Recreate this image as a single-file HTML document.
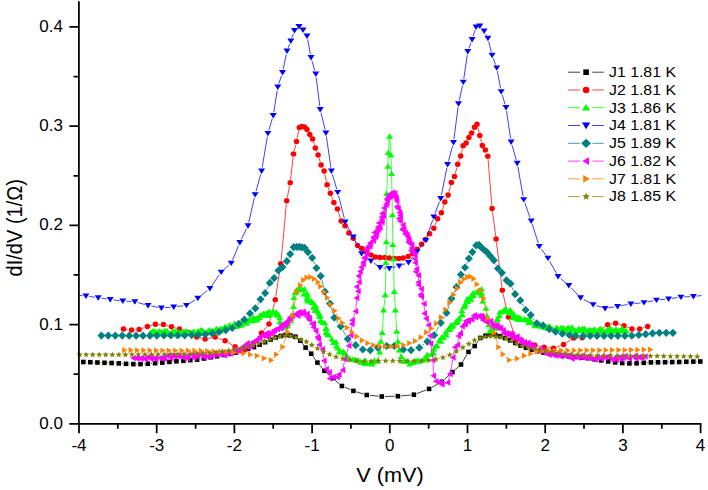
<!DOCTYPE html>
<html><head><meta charset="utf-8"><title>dI/dV</title>
<style>html,body{margin:0;padding:0;background:#fff}svg{display:block}text{font-family:"Liberation Sans",sans-serif;fill:#000}</style></head><body>
<svg width="708" height="490" viewBox="0 0 708 490">
<rect width="708" height="490" fill="#fff"/>
<defs>
<rect id="sq" x="-2.3" y="-2.3" width="4.6" height="4.6"/>
<circle id="ci" r="2.75"/>
<polygon id="tu" points="0,-3 3.5,2.4 -3.5,2.4"/>
<polygon id="td" points="0,3 3.5,-2.4 -3.5,-2.4"/>
<polygon id="di" points="0,-4.1 4,0 0,4.1 -4,0"/>
<polygon id="tl" points="-3.2,0 2.5,-3.3 2.5,3.3"/>
<polygon id="tr" points="3,0 -2.3,-3.1 -2.3,3.1"/>
<polygon id="st" points="0.00,-3.30 0.85,-1.17 3.14,-1.02 1.38,0.45 1.94,2.67 0.00,1.45 -1.94,2.67 -1.38,0.45 -3.14,-1.02 -0.85,-1.17"/>
<rect id="Lsq" x="-2.8" y="-2.8" width="5.6" height="5.6"/>
<circle id="Lci" r="3.3"/>
<polygon id="Ltu" points="0,-3.8 4.1,2.9 -4.1,2.9"/>
<polygon id="Ltd" points="0,3.8 4.1,-2.9 -4.1,-2.9"/>
<polygon id="Ldi" points="0,-4.6 4.9,0 0,4.6 -4.9,0"/>
<polygon id="Ltl" points="-3.8,0 2.9,-3.9 2.9,3.9"/>
<polygon id="Ltr" points="3.8,0 -2.9,-3.9 -2.9,3.9"/>
<polygon id="Lst" points="0.00,-4.10 1.03,-1.42 3.90,-1.27 1.66,0.54 2.41,3.32 0.00,1.75 -2.41,3.32 -1.66,0.54 -3.90,-1.27 -1.03,-1.42"/>
</defs>
<clipPath id="cp"><rect x="79" y="0" width="624" height="424"/></clipPath>
<g fill="#000000" stroke="none">
<path d="M86.5 362.11 L87.14 362.13 M93.54 362.35 L94.21 362.37 M100.61 362.6 L101.31 362.63 M107.71 362.88 L108.44 362.91 M114.84 363.19 L115.61 363.23 M122 363.56 L122.81 363.6 M129.2 363.91 L130.06 363.95 M136.46 364.08 L137.35 364.08 M143.74 363.92 L144.64 363.88 M151.03 363.51 L151.89 363.45 M158.27 362.96 L159.09 362.89 M165.46 362.3 L166.21 362.22 M172.58 361.64 L173.24 361.58 M179.62 361.07 L180.2 361.03 M186.58 360.46 L187.12 360.41 M193.49 359.85 L193.94 359.82 M200.29 359.07 L200.75 359 M207.06 357.95 L207.42 357.89 M302.32 343.26 L303.65 345.03 M307.75 349.94 L309.05 351.34 M313.03 356.32 L315.55 360 M319.46 365.06 L322.29 368.34 M326.76 372.9 L330.13 375.91 M334.95 380.12 L339.5 383.97 M344.89 387.28 L350.5 389.64 M356.5 391.83 L363.61 394.05 M369.85 395.32 L378.64 396.21 M385.02 396.47 L394.75 396.26 M401.13 395.9 L410.74 395.02 M416.91 393.57 L426.12 390.01 M431.9 387.3 L439.01 383.33 M444.17 379.62 L450.06 374.27 M454.81 369.98 L458.61 366.59 M462.64 361.71 L466.87 354.64 M470.83 349.68 L472.38 348.21 M476.53 343.38 L478.5 340.6 M591.18 358.71 L591.48 358.76 M597.8 359.81 L598.2 359.88 M604.52 360.86 L605.03 360.94 M611.37 361.84 L611.98 361.93 M618.33 362.67 L619.03 362.74 M625.41 363.2 L626.17 363.24 M632.57 363.36 L633.38 363.35 M639.77 363.08 L640.59 363.02 M646.98 362.61 L647.74 362.57 M654.13 362.34 L654.82 362.33 M661.22 362.25 L661.9 362.24 M668.3 362.15 L668.97 362.14 M675.37 362.06 L676.02 362.05 M682.42 361.92 L683.07 361.91 M689.47 361.74 L690.1 361.72 M696.49 361.57 L697.1 361.56 " fill="none" stroke="#000000" stroke-width="0.75"/>
<use href="#sq" x="83.3" y="362"/><use href="#sq" x="90.3" y="362.2"/><use href="#sq" x="97.4" y="362.5"/><use href="#sq" x="104.5" y="362.8"/><use href="#sq" x="111.6" y="363"/><use href="#sq" x="118.8" y="363.4"/><use href="#sq" x="126" y="363.8"/><use href="#sq" x="133.3" y="364.1"/><use href="#sq" x="140.5" y="364.1"/><use href="#sq" x="147.8" y="363.7"/><use href="#sq" x="155.1" y="363.2"/><use href="#sq" x="162.3" y="362.6"/><use href="#sq" x="169.4" y="361.9"/><use href="#sq" x="176.4" y="361.3"/><use href="#sq" x="183.4" y="360.8"/><use href="#sq" x="190.3" y="360.1"/><use href="#sq" x="197.1" y="359.6"/><use href="#sq" x="203.9" y="358.5"/><use href="#sq" x="210.6" y="357.3"/><use href="#sq" x="217.1" y="356.2"/><use href="#sq" x="223.6" y="355"/><use href="#sq" x="229.9" y="353.8"/><use href="#sq" x="236.1" y="352.6"/><use href="#sq" x="242.2" y="350.7"/><use href="#sq" x="248.2" y="348.9"/><use href="#sq" x="254" y="347.1"/><use href="#sq" x="259.6" y="344.6"/><use href="#sq" x="265.1" y="342.2"/><use href="#sq" x="270.5" y="339.7"/><use href="#sq" x="275.7" y="337.5"/><use href="#sq" x="280.7" y="336"/><use href="#sq" x="285.6" y="334.9"/><use href="#sq" x="290.5" y="335.5"/><use href="#sq" x="295.4" y="336.7"/><use href="#sq" x="300.4" y="340.7"/><use href="#sq" x="305.6" y="347.6"/><use href="#sq" x="311.2" y="353.7"/><use href="#sq" x="317.4" y="362.6"/><use href="#sq" x="324.4" y="370.8"/><use href="#sq" x="332.5" y="378.1"/><use href="#sq" x="341.9" y="386"/><use href="#sq" x="353.4" y="390.9"/><use href="#sq" x="366.7" y="395"/><use href="#sq" x="381.8" y="396.5"/><use href="#sq" x="397.9" y="396.2"/><use href="#sq" x="413.9" y="394.7"/><use href="#sq" x="429.1" y="388.9"/><use href="#sq" x="441.8" y="381.8"/><use href="#sq" x="452.4" y="372.1"/><use href="#sq" x="461" y="364.5"/><use href="#sq" x="468.5" y="351.9"/><use href="#sq" x="474.7" y="346"/><use href="#sq" x="480.3" y="338"/><use href="#sq" x="485.5" y="335.7"/><use href="#sq" x="490.4" y="334.3"/><use href="#sq" x="495.3" y="334.8"/><use href="#sq" x="500.2" y="336.2"/><use href="#sq" x="505.1" y="338"/><use href="#sq" x="510.1" y="340.3"/><use href="#sq" x="515.3" y="342.9"/><use href="#sq" x="520.6" y="345.6"/><use href="#sq" x="526.1" y="347.8"/><use href="#sq" x="531.8" y="349.6"/><use href="#sq" x="537.6" y="351.1"/><use href="#sq" x="543.6" y="352.6"/><use href="#sq" x="549.7" y="353.8"/><use href="#sq" x="555.9" y="354.8"/><use href="#sq" x="562.2" y="355.7"/><use href="#sq" x="568.5" y="356.4"/><use href="#sq" x="575" y="357"/><use href="#sq" x="581.5" y="357.6"/><use href="#sq" x="588" y="358.2"/><use href="#sq" x="594.6" y="359.3"/><use href="#sq" x="601.4" y="360.4"/><use href="#sq" x="608.2" y="361.4"/><use href="#sq" x="615.1" y="362.4"/><use href="#sq" x="622.2" y="363"/><use href="#sq" x="629.4" y="363.4"/><use href="#sq" x="636.6" y="363.3"/><use href="#sq" x="643.8" y="362.8"/><use href="#sq" x="650.9" y="362.4"/><use href="#sq" x="658" y="362.3"/><use href="#sq" x="665.1" y="362.2"/><use href="#sq" x="672.2" y="362.1"/><use href="#sq" x="679.2" y="362"/><use href="#sq" x="686.3" y="361.8"/><use href="#sq" x="693.3" y="361.6"/><use href="#sq" x="700.3" y="361.5"/>
</g>
<g fill="#ff0000" stroke="none">
<path d="M126.67 329.37 L128.43 329.63 M134.79 329.89 L135.91 329.81 M142.11 328.51 L144.39 327.69 M150.48 325.72 L152.32 325.18 M158.6 324.42 L160.2 324.48 M166.49 325.44 L168.41 325.96 M174.58 327.68 L176.42 328.22 M182.47 330.29 L185.03 331.31 M190.85 333.96 L193.95 335.54 M199.9 337.78 L202 338.32 M208.24 338.47 L211.96 337.73 M218.11 338.18 L222.09 339.62 M227.84 342.35 L232.36 345.05 M238.12 347.76 L241.48 348.94 M247.07 348.1 L250.73 345.4 M255.26 340.97 L259.54 335.43 M263.58 330.46 L266.92 326.54 M269.8 321 L274.5 302.8 M275.78 296.54 L280.32 266.96 M281.1 260.61 L286.4 203.99 M287.31 197.66 L289.59 185.94 M290.56 179.62 L293.14 157.08 M294.26 150.79 L295.74 144.71 M297.12 138.46 L298.68 130.64 M313.52 142.07 L314.38 144.93 M316.49 150.97 L316.91 152.03 M319.02 158.07 L320.18 161.93 M322.53 167.86 L322.67 168.14 M324.78 174.13 L326.42 181.67 M328.26 187.78 L329.24 190.32 M331.53 196.29 L332.77 199.61 M335.47 205.39 L335.93 206.21 M338.44 212.06 L340.26 218.04 M346.52 228.51 L347.38 230.09 M350.92 235.38 L351.18 235.72 M354.84 240.95 L355.96 242.85 M419.19 246.87 L419.41 246.63 M427.35 236.89 L427.75 236.31 M431.56 231.17 L431.84 230.83 M434.99 225.33 L436.41 221.77 M439.31 216.1 L439.69 215.5 M442.37 209.75 L443.83 205.15 M446.15 199.2 L446.75 197.9 M448.91 191.9 L450.59 185.5 M455.31 173.4 L456.89 167.4 M458.79 161.29 L459.61 159.01 M461.43 152.88 L462.37 148.82 M477.77 127.41 L479.03 132.49 M480.58 138.7 L481.52 142.5 M488.06 159.39 L491.84 205.21 M492.51 211.57 L495.69 235.83 M496.48 242.18 L501.92 287.12 M503.01 293.42 L507.69 313.98 M509.45 320.12 L515.15 336.48 M519.11 340.82 L522.09 342.18 M528.15 344.08 L531.65 344.72 M537.93 345.97 L541.07 346.63 M547.38 347.65 L550.22 347.95 M556.39 347.16 L560.61 345.54 M566.27 342.64 L570.83 339.66 M576.7 337.83 L579 337.77 M585.27 336.81 L587.43 336.19 M593.38 333.9 L596.42 332.4 M601.85 329.07 L605.05 326.63 M610.75 324.11 L612.45 323.79 M618.66 324.12 L620.84 324.78 M626.86 326.92 L628.94 327.78 M635.1 329 L636.5 329 M642.75 328.05 L644.65 327.45 " fill="none" stroke="#ff0000" stroke-width="0.75"/>
<use href="#ci" x="123.5" y="328.9"/><use href="#ci" x="131.6" y="330.1"/><use href="#ci" x="139.1" y="329.6"/><use href="#ci" x="147.4" y="326.6"/><use href="#ci" x="155.4" y="324.3"/><use href="#ci" x="163.4" y="324.6"/><use href="#ci" x="171.5" y="326.8"/><use href="#ci" x="179.5" y="329.1"/><use href="#ci" x="188" y="332.5"/><use href="#ci" x="196.8" y="337"/><use href="#ci" x="205.1" y="339.1"/><use href="#ci" x="215.1" y="337.1"/><use href="#ci" x="225.1" y="340.7"/><use href="#ci" x="235.1" y="346.7"/><use href="#ci" x="244.5" y="350"/><use href="#ci" x="253.3" y="343.5"/><use href="#ci" x="261.5" y="332.9"/><use href="#ci" x="269" y="324.1"/><use href="#ci" x="275.3" y="299.7"/><use href="#ci" x="280.8" y="263.8"/><use href="#ci" x="286.7" y="200.8"/><use href="#ci" x="290.2" y="182.8"/><use href="#ci" x="293.5" y="153.9"/><use href="#ci" x="296.5" y="141.6"/><use href="#ci" x="299.3" y="127.5"/><use href="#ci" x="301.8" y="126.5"/><use href="#ci" x="304.5" y="127"/><use href="#ci" x="307" y="129.5"/><use href="#ci" x="309.8" y="134.5"/><use href="#ci" x="312.6" y="139"/><use href="#ci" x="315.3" y="148"/><use href="#ci" x="318.1" y="155"/><use href="#ci" x="321.1" y="165"/><use href="#ci" x="324.1" y="171"/><use href="#ci" x="327.1" y="184.8"/><use href="#ci" x="330.4" y="193.3"/><use href="#ci" x="333.9" y="202.6"/><use href="#ci" x="337.5" y="209"/><use href="#ci" x="341.2" y="221.1"/><use href="#ci" x="345" y="225.7"/><use href="#ci" x="348.9" y="232.9"/><use href="#ci" x="353.2" y="238.2"/><use href="#ci" x="357.6" y="245.6"/><use href="#ci" x="362" y="248.6"/><use href="#ci" x="366.5" y="252"/><use href="#ci" x="371.1" y="255.1"/><use href="#ci" x="375.4" y="256.9"/><use href="#ci" x="380" y="257.5"/><use href="#ci" x="384.8" y="257.5"/><use href="#ci" x="389.3" y="258.1"/><use href="#ci" x="394.3" y="258.5"/><use href="#ci" x="398.8" y="258.5"/><use href="#ci" x="403.2" y="258.1"/><use href="#ci" x="408.1" y="256.5"/><use href="#ci" x="412.7" y="253.6"/><use href="#ci" x="417" y="249.2"/><use href="#ci" x="421.6" y="244.3"/><use href="#ci" x="425.5" y="239.5"/><use href="#ci" x="429.6" y="233.7"/><use href="#ci" x="433.8" y="228.3"/><use href="#ci" x="437.6" y="218.8"/><use href="#ci" x="441.4" y="212.8"/><use href="#ci" x="444.8" y="202.1"/><use href="#ci" x="448.1" y="195"/><use href="#ci" x="451.4" y="182.4"/><use href="#ci" x="454.5" y="176.5"/><use href="#ci" x="457.7" y="164.3"/><use href="#ci" x="460.7" y="156"/><use href="#ci" x="463.1" y="145.7"/><use href="#ci" x="466.1" y="143"/><use href="#ci" x="468.9" y="137.4"/><use href="#ci" x="471.7" y="133.1"/><use href="#ci" x="474.5" y="127.3"/><use href="#ci" x="477" y="124.3"/><use href="#ci" x="479.8" y="135.6"/><use href="#ci" x="482.3" y="145.6"/><use href="#ci" x="485.3" y="150.1"/><use href="#ci" x="487.8" y="156.2"/><use href="#ci" x="492.1" y="208.4"/><use href="#ci" x="496.1" y="239"/><use href="#ci" x="502.3" y="290.3"/><use href="#ci" x="508.4" y="317.1"/><use href="#ci" x="516.2" y="339.5"/><use href="#ci" x="525" y="343.5"/><use href="#ci" x="534.8" y="345.3"/><use href="#ci" x="544.2" y="347.3"/><use href="#ci" x="553.4" y="348.3"/><use href="#ci" x="563.6" y="344.4"/><use href="#ci" x="573.5" y="337.9"/><use href="#ci" x="582.2" y="337.7"/><use href="#ci" x="590.5" y="335.3"/><use href="#ci" x="599.3" y="331"/><use href="#ci" x="607.6" y="324.7"/><use href="#ci" x="615.6" y="323.2"/><use href="#ci" x="623.9" y="325.7"/><use href="#ci" x="631.9" y="329"/><use href="#ci" x="639.7" y="329"/><use href="#ci" x="647.7" y="326.5"/>
</g>
<g fill="#00ff00" stroke="none">
<path d="M227.17 327.74 L227.52 327.37 M258.64 317.14 L259.03 316.69 M291.32 318.93 L292.05 316.65 M292.85 312.75 L293.26 308.68 M293.56 304.7 L293.82 299.7 M294.4 295.76 L294.61 294.88 M304.15 291.01 L304.07 292.08 M313.37 304.81 L313.39 305.4 M315.37 308.31 L315.25 308.77 M325.31 324.86 L325.6 325.94 M330.05 336.76 L330.66 337.59 M362.37 361.17 L363.31 360.85 M377.97 359.06 L379.28 354.13 M379.98 350.21 L380.62 343.39 M381.14 339.43 L381.96 334.57 M382.41 330.6 L383.49 312 M383.82 308.01 L385.08 296.79 M385.34 292.8 L385.86 264.5 M385.94 260.5 L386.26 243.8 M386.31 239.8 L386.59 195.6 M386.7 191.6 L387.8 168.4 M387.96 164.4 L388.24 154.6 M388.46 150.61 L389.44 138.29 M389.74 138.3 L390.76 153.1 M390.98 157.1 L391.52 171.5 M391.64 175.5 L392.36 212.9 M392.43 216.9 L392.87 242.7 M392.96 246.7 L393.24 257.1 M393.36 261.1 L394.24 289.6 M394.42 293.6 L395.28 308 M395.52 312 L396.58 329.4 M396.94 333.39 L397.66 339.41 M398.19 343.38 L398.91 348.22 M399.84 352.09 L400.68 354.56 M402.25 358.23 L402.91 359.5 M421.64 360.13 L422.77 359.47 M437.84 343.98 L438.61 342.11 M443.7 336.12 L444.41 335.79 M449.86 327.52 L450.23 326.86 M454.32 323.76 L455.07 322.84 M460.62 316.84 L461.09 316.31 M462.85 309.14 L462.99 308.86 M479.53 290.3 L479.92 290.05 M482.16 297.58 L482.47 299.02 M483.64 302.82 L485.15 306.49 M486.19 310.32 L486.71 313.98 M488.39 321.97 L488.46 322.88 M488.97 326.84 L489.37 329.3 M496.24 323.61 L496.65 321.79 M532.98 323.19 L533.23 323.37 M585.64 330.15 L585.92 330.51 " fill="none" stroke="#00ff00" stroke-width="0.75"/>
<use href="#tu" x="150.6" y="332.8"/><use href="#tu" x="151.1" y="332"/><use href="#tu" x="154.4" y="333.6"/><use href="#tu" x="153.3" y="330.8"/><use href="#tu" x="154.4" y="331.8"/><use href="#tu" x="155.7" y="331.8"/><use href="#tu" x="159" y="331.1"/><use href="#tu" x="160.4" y="332.4"/><use href="#tu" x="159.7" y="332.2"/><use href="#tu" x="161.8" y="331.7"/><use href="#tu" x="163.2" y="332.8"/><use href="#tu" x="165.1" y="330.6"/><use href="#tu" x="166.8" y="333.2"/><use href="#tu" x="167.4" y="331"/><use href="#tu" x="169" y="334"/><use href="#tu" x="172.2" y="333"/><use href="#tu" x="173.3" y="333.8"/><use href="#tu" x="173" y="330.8"/><use href="#tu" x="175.3" y="332.8"/><use href="#tu" x="175.7" y="331.5"/><use href="#tu" x="177.2" y="332.5"/><use href="#tu" x="178.1" y="331.9"/><use href="#tu" x="180.1" y="334.2"/><use href="#tu" x="181.9" y="331.9"/><use href="#tu" x="182.2" y="332.5"/><use href="#tu" x="183.4" y="331.4"/><use href="#tu" x="185.7" y="330.9"/><use href="#tu" x="187" y="332"/><use href="#tu" x="189.1" y="333.5"/><use href="#tu" x="190.4" y="333.2"/><use href="#tu" x="190.7" y="333"/><use href="#tu" x="192" y="332.6"/><use href="#tu" x="193.3" y="332"/><use href="#tu" x="193.8" y="331.2"/><use href="#tu" x="198.1" y="331.1"/><use href="#tu" x="198.5" y="332.7"/><use href="#tu" x="200" y="331.9"/><use href="#tu" x="200.9" y="330.2"/><use href="#tu" x="200.6" y="330.6"/><use href="#tu" x="202.2" y="330"/><use href="#tu" x="203.5" y="331.7"/><use href="#tu" x="205" y="333.1"/><use href="#tu" x="207.9" y="331.3"/><use href="#tu" x="209.4" y="330.1"/><use href="#tu" x="211.4" y="332.2"/><use href="#tu" x="212.1" y="330.6"/><use href="#tu" x="213.8" y="331.5"/><use href="#tu" x="214.5" y="332.1"/><use href="#tu" x="215.8" y="329.7"/><use href="#tu" x="216.9" y="328.7"/><use href="#tu" x="217" y="330.5"/><use href="#tu" x="220.2" y="331.2"/><use href="#tu" x="221.8" y="329.2"/><use href="#tu" x="220.6" y="328.7"/><use href="#tu" x="224.6" y="329.6"/><use href="#tu" x="224.5" y="328"/><use href="#tu" x="225" y="326.6"/><use href="#tu" x="225.8" y="329.2"/><use href="#tu" x="228.9" y="325.9"/><use href="#tu" x="229.5" y="325.3"/><use href="#tu" x="230.1" y="327.6"/><use href="#tu" x="232.8" y="326.2"/><use href="#tu" x="232.9" y="326.5"/><use href="#tu" x="236.3" y="325.3"/><use href="#tu" x="234.7" y="323.4"/><use href="#tu" x="236" y="326.6"/><use href="#tu" x="238.7" y="325.8"/><use href="#tu" x="238.8" y="323.1"/><use href="#tu" x="241.7" y="325.2"/><use href="#tu" x="241.8" y="321.6"/><use href="#tu" x="244.8" y="322.1"/><use href="#tu" x="245.6" y="321.2"/><use href="#tu" x="246.7" y="323.4"/><use href="#tu" x="248" y="321"/><use href="#tu" x="249.2" y="319.7"/><use href="#tu" x="249.1" y="320.3"/><use href="#tu" x="252.1" y="318.8"/><use href="#tu" x="253.3" y="320.9"/><use href="#tu" x="254.8" y="318.7"/><use href="#tu" x="253.5" y="317.7"/><use href="#tu" x="256.7" y="320.1"/><use href="#tu" x="257.5" y="317.7"/><use href="#tu" x="257.3" y="318.6"/><use href="#tu" x="260.4" y="315.2"/><use href="#tu" x="259.4" y="317.7"/><use href="#tu" x="262.6" y="315.1"/><use href="#tu" x="261.9" y="315.1"/><use href="#tu" x="263.9" y="313.3"/><use href="#tu" x="266" y="314.6"/><use href="#tu" x="266.9" y="312.9"/><use href="#tu" x="268.7" y="314.8"/><use href="#tu" x="267.8" y="315.4"/><use href="#tu" x="270.1" y="314.8"/><use href="#tu" x="269.1" y="311.4"/><use href="#tu" x="272.5" y="312.2"/><use href="#tu" x="272.8" y="311.4"/><use href="#tu" x="275.4" y="313.4"/><use href="#tu" x="276.1" y="312.2"/><use href="#tu" x="276.1" y="312.7"/><use href="#tu" x="278.5" y="314.8"/><use href="#tu" x="277.1" y="315.1"/><use href="#tu" x="279.7" y="317.8"/><use href="#tu" x="279.8" y="321.9"/><use href="#tu" x="282" y="324.6"/><use href="#tu" x="283.6" y="324.4"/><use href="#tu" x="284.9" y="324.2"/><use href="#tu" x="285" y="327.4"/><use href="#tu" x="285.9" y="325.3"/><use href="#tu" x="287.5" y="325.9"/><use href="#tu" x="288" y="323.7"/><use href="#tu" x="290.7" y="320.8"/><use href="#tu" x="292.7" y="314.7"/><use href="#tu" x="293.5" y="306.7"/><use href="#tu" x="293.9" y="297.7"/><use href="#tu" x="295.1" y="292.9"/><use href="#tu" x="296.5" y="290.4"/><use href="#tu" x="296.3" y="292.2"/><use href="#tu" x="297.4" y="289.6"/><use href="#tu" x="300.4" y="288.2"/><use href="#tu" x="298.8" y="289.9"/><use href="#tu" x="301.1" y="289.7"/><use href="#tu" x="300.3" y="289.1"/><use href="#tu" x="301.1" y="288.6"/><use href="#tu" x="304.3" y="289"/><use href="#tu" x="303.9" y="294.1"/><use href="#tu" x="307" y="293.4"/><use href="#tu" x="307.2" y="295.4"/><use href="#tu" x="307.3" y="297.8"/><use href="#tu" x="307.3" y="299.3"/><use href="#tu" x="307.9" y="301.1"/><use href="#tu" x="310.9" y="301.1"/><use href="#tu" x="311.9" y="302.7"/><use href="#tu" x="313.3" y="302.8"/><use href="#tu" x="313.5" y="307.4"/><use href="#tu" x="315.9" y="306.4"/><use href="#tu" x="314.8" y="310.7"/><use href="#tu" x="316.1" y="309.2"/><use href="#tu" x="318.4" y="312.6"/><use href="#tu" x="319.6" y="314.8"/><use href="#tu" x="320" y="316.6"/><use href="#tu" x="320.5" y="320.7"/><use href="#tu" x="322.9" y="322.6"/><use href="#tu" x="324.8" y="322.9"/><use href="#tu" x="326.1" y="327.9"/><use href="#tu" x="326.1" y="329.2"/><use href="#tu" x="326.1" y="332.6"/><use href="#tu" x="327.6" y="334.3"/><use href="#tu" x="328.9" y="335.1"/><use href="#tu" x="331.8" y="339.2"/><use href="#tu" x="333.5" y="342.6"/><use href="#tu" x="336" y="342"/><use href="#tu" x="336.4" y="346.2"/><use href="#tu" x="338.1" y="348.1"/><use href="#tu" x="339.4" y="351.4"/><use href="#tu" x="340.8" y="352.1"/><use href="#tu" x="343.2" y="351.5"/><use href="#tu" x="344.2" y="352.8"/><use href="#tu" x="345" y="353.8"/><use href="#tu" x="347.1" y="356.1"/><use href="#tu" x="349.9" y="359"/><use href="#tu" x="352.8" y="359.4"/><use href="#tu" x="355" y="359.5"/><use href="#tu" x="356.5" y="360.7"/><use href="#tu" x="358" y="360.1"/><use href="#tu" x="361" y="362.4"/><use href="#tu" x="360.5" y="361.8"/><use href="#tu" x="365.2" y="360.2"/><use href="#tu" x="365" y="363.3"/><use href="#tu" x="366.2" y="363.3"/><use href="#tu" x="369.9" y="363.2"/><use href="#tu" x="371.9" y="364.1"/><use href="#tu" x="373.2" y="362"/><use href="#tu" x="374.3" y="360.6"/><use href="#tu" x="377.5" y="361"/><use href="#tu" x="379.8" y="352.2"/><use href="#tu" x="380.8" y="341.4"/><use href="#tu" x="382.3" y="332.6"/><use href="#tu" x="383.6" y="310"/><use href="#tu" x="385.3" y="294.8"/><use href="#tu" x="385.9" y="262.5"/><use href="#tu" x="386.3" y="241.8"/><use href="#tu" x="386.6" y="193.6"/><use href="#tu" x="387.9" y="166.4"/><use href="#tu" x="388.3" y="152.6"/><use href="#tu" x="389.6" y="136.3"/><use href="#tu" x="390.9" y="155.1"/><use href="#tu" x="391.6" y="173.5"/><use href="#tu" x="392.4" y="214.9"/><use href="#tu" x="392.9" y="244.7"/><use href="#tu" x="393.3" y="259.1"/><use href="#tu" x="394.3" y="291.6"/><use href="#tu" x="395.4" y="310"/><use href="#tu" x="396.7" y="331.4"/><use href="#tu" x="397.9" y="341.4"/><use href="#tu" x="399.2" y="350.2"/><use href="#tu" x="401.3" y="356.5"/><use href="#tu" x="403.8" y="361.3"/><use href="#tu" x="404.8" y="360.9"/><use href="#tu" x="408.2" y="361.4"/><use href="#tu" x="409.8" y="364.2"/><use href="#tu" x="412.4" y="362.3"/><use href="#tu" x="412.4" y="362.4"/><use href="#tu" x="415.6" y="361.8"/><use href="#tu" x="416.6" y="361.4"/><use href="#tu" x="417.7" y="360.3"/><use href="#tu" x="419.9" y="361.1"/><use href="#tu" x="424.5" y="358.5"/><use href="#tu" x="423.5" y="360.1"/><use href="#tu" x="426.4" y="357.6"/><use href="#tu" x="427.4" y="354.5"/><use href="#tu" x="431.3" y="354.4"/><use href="#tu" x="433.6" y="353.1"/><use href="#tu" x="433.7" y="349.2"/><use href="#tu" x="435.6" y="346.2"/><use href="#tu" x="437.1" y="345.8"/><use href="#tu" x="439.4" y="340.3"/><use href="#tu" x="441.1" y="341.4"/><use href="#tu" x="443.3" y="337.7"/><use href="#tu" x="441.9" y="337"/><use href="#tu" x="446.2" y="335"/><use href="#tu" x="446" y="331.9"/><use href="#tu" x="448.4" y="329.1"/><use href="#tu" x="449.9" y="329.3"/><use href="#tu" x="448.9" y="329.3"/><use href="#tu" x="451.2" y="325.1"/><use href="#tu" x="451.8" y="326.9"/><use href="#tu" x="453.1" y="325.3"/><use href="#tu" x="456.3" y="321.3"/><use href="#tu" x="456.4" y="322.6"/><use href="#tu" x="457.8" y="321.4"/><use href="#tu" x="458.6" y="318.9"/><use href="#tu" x="459.3" y="318.3"/><use href="#tu" x="462.4" y="314.8"/><use href="#tu" x="461.9" y="310.9"/><use href="#tu" x="463.9" y="307.1"/><use href="#tu" x="464.7" y="305.6"/><use href="#tu" x="465.2" y="303.9"/><use href="#tu" x="467.9" y="301.5"/><use href="#tu" x="467" y="299.7"/><use href="#tu" x="467.3" y="299"/><use href="#tu" x="470.9" y="299.6"/><use href="#tu" x="470.8" y="296.4"/><use href="#tu" x="473" y="295.6"/><use href="#tu" x="472.9" y="294.9"/><use href="#tu" x="472.4" y="294.5"/><use href="#tu" x="473.4" y="292.7"/><use href="#tu" x="477" y="292.3"/><use href="#tu" x="476.1" y="292.7"/><use href="#tu" x="478.8" y="291.9"/><use href="#tu" x="477" y="292.5"/><use href="#tu" x="477.8" y="291.4"/><use href="#tu" x="481.6" y="289"/><use href="#tu" x="481.3" y="293"/><use href="#tu" x="481.1" y="293.1"/><use href="#tu" x="481.7" y="295.6"/><use href="#tu" x="482.9" y="301"/><use href="#tu" x="485.9" y="308.3"/><use href="#tu" x="487" y="316"/><use href="#tu" x="488.2" y="320"/><use href="#tu" x="488.6" y="324.9"/><use href="#tu" x="489.7" y="331.3"/><use href="#tu" x="491" y="330.3"/><use href="#tu" x="491.7" y="329.4"/><use href="#tu" x="495" y="328.6"/><use href="#tu" x="495.8" y="325.6"/><use href="#tu" x="497.1" y="319.8"/><use href="#tu" x="497.3" y="318.8"/><use href="#tu" x="499.3" y="315.9"/><use href="#tu" x="499.8" y="312.2"/><use href="#tu" x="502.4" y="311.8"/><use href="#tu" x="503.6" y="310.7"/><use href="#tu" x="504.7" y="310.9"/><use href="#tu" x="505.3" y="308.8"/><use href="#tu" x="505.2" y="309.8"/><use href="#tu" x="507.1" y="311.5"/><use href="#tu" x="507.4" y="311.6"/><use href="#tu" x="510.2" y="309.9"/><use href="#tu" x="510" y="313.2"/><use href="#tu" x="511.3" y="312.6"/><use href="#tu" x="513.2" y="313.5"/><use href="#tu" x="514.2" y="315.4"/><use href="#tu" x="513.1" y="317.4"/><use href="#tu" x="514.1" y="317.8"/><use href="#tu" x="516.9" y="318.7"/><use href="#tu" x="518.7" y="317.4"/><use href="#tu" x="517.7" y="317.4"/><use href="#tu" x="518.5" y="319.6"/><use href="#tu" x="519.9" y="318.1"/><use href="#tu" x="521.6" y="319.4"/><use href="#tu" x="524.2" y="319.9"/><use href="#tu" x="524.8" y="318.9"/><use href="#tu" x="525.5" y="319.8"/><use href="#tu" x="528" y="319.4"/><use href="#tu" x="528.8" y="322.5"/><use href="#tu" x="529.7" y="320.3"/><use href="#tu" x="530.1" y="321.5"/><use href="#tu" x="531.4" y="322"/><use href="#tu" x="534.8" y="324.5"/><use href="#tu" x="535.8" y="324.6"/><use href="#tu" x="535.3" y="325.9"/><use href="#tu" x="537" y="323.2"/><use href="#tu" x="539" y="323.9"/><use href="#tu" x="540.6" y="326.1"/><use href="#tu" x="540.1" y="325.3"/><use href="#tu" x="542.8" y="326.5"/><use href="#tu" x="543.4" y="325"/><use href="#tu" x="544" y="327.2"/><use href="#tu" x="545.7" y="327.6"/><use href="#tu" x="547.8" y="326.5"/><use href="#tu" x="547.2" y="328"/><use href="#tu" x="549.3" y="327.8"/><use href="#tu" x="549.8" y="326.4"/><use href="#tu" x="552.1" y="328.7"/><use href="#tu" x="552.4" y="329.4"/><use href="#tu" x="556" y="329.3"/><use href="#tu" x="557" y="327.7"/><use href="#tu" x="556.2" y="328"/><use href="#tu" x="557.6" y="328.4"/><use href="#tu" x="561" y="327.8"/><use href="#tu" x="562.6" y="328.5"/><use href="#tu" x="561.7" y="329.3"/><use href="#tu" x="563.8" y="328"/><use href="#tu" x="565.4" y="330.7"/><use href="#tu" x="567.5" y="328"/><use href="#tu" x="569.3" y="327.7"/><use href="#tu" x="569" y="328.6"/><use href="#tu" x="572.1" y="327.3"/><use href="#tu" x="572.4" y="329.5"/><use href="#tu" x="572.1" y="330.2"/><use href="#tu" x="575.5" y="330.8"/><use href="#tu" x="574.5" y="331.1"/><use href="#tu" x="576.7" y="331.4"/><use href="#tu" x="578.7" y="328.4"/><use href="#tu" x="580.6" y="330.4"/><use href="#tu" x="581" y="330.7"/><use href="#tu" x="582.3" y="328.4"/><use href="#tu" x="585.1" y="329.5"/><use href="#tu" x="584.4" y="328.6"/><use href="#tu" x="587.1" y="332.1"/><use href="#tu" x="587.7" y="331.8"/><use href="#tu" x="588.6" y="330.2"/><use href="#tu" x="589.8" y="329.9"/><use href="#tu" x="592" y="330.1"/><use href="#tu" x="591.7" y="331.7"/><use href="#tu" x="593.8" y="330.6"/><use href="#tu" x="594.8" y="329.3"/><use href="#tu" x="597.6" y="330.9"/><use href="#tu" x="599.9" y="329.1"/><use href="#tu" x="600.8" y="329"/><use href="#tu" x="600.1" y="328.9"/><use href="#tu" x="602.5" y="330.1"/><use href="#tu" x="603.2" y="332.4"/><use href="#tu" x="605.4" y="332.1"/><use href="#tu" x="607.7" y="329.7"/><use href="#tu" x="608.3" y="329.1"/><use href="#tu" x="608.7" y="331"/><use href="#tu" x="610.7" y="328.6"/><use href="#tu" x="610.4" y="331.4"/><use href="#tu" x="613.8" y="330.9"/><use href="#tu" x="613.6" y="331.4"/><use href="#tu" x="616" y="328.9"/><use href="#tu" x="616" y="330.8"/><use href="#tu" x="620" y="330.6"/><use href="#tu" x="619.1" y="331.2"/><use href="#tu" x="620.1" y="330.9"/><use href="#tu" x="622.1" y="328.4"/><use href="#tu" x="623.8" y="330.3"/><use href="#tu" x="626.4" y="331.1"/><use href="#tu" x="625.8" y="330.9"/>
</g>
<g fill="#0000ff" stroke="none">
<path d="M79 295.2 L82.52 295.61 M89.27 296.47 L94.83 297.23 M101.56 298.2 L106.84 299 M113.58 299.9 L119.42 300.6 M126.19 301.2 L131.41 301.5 M138.07 302.63 L144.83 304.57 M151.44 306.13 L158.06 307.37 M164.79 307.72 L170.31 307.28 M177.07 306.55 L183.13 305.75 M189.38 303.49 L194.92 300.01 M200.44 296.06 L207.26 290.54 M211.84 285.61 L219.26 274.89 M223.73 269.83 L228.67 265.37 M232.51 259.96 L238.49 245.64 M241.29 239.44 L246.51 228.76 M248.76 222.39 L254.34 197.91 M256 191.32 L260.7 174.28 M262.16 167.65 L267.34 136.65 M268.88 130.04 L272.27 118.76 M273.78 112.14 L277.22 90.36 M278.81 83.77 L281.44 75.73 M283.2 69.17 L286.3 54.33 M288.19 47.82 L289.56 44.18 M291.89 37.8 L293.36 33.7 M304.89 32.83 L305.11 33.17 M307.62 39.34 L310.38 54.16 M311.94 60.77 L314.81 70.73 M316.18 77.37 L319.82 106.13 M321.04 112.81 L325.11 129.69 M326.39 136.36 L330.91 167.64 M332.36 174.26 L336.74 189.04 M338.54 195.6 L344.36 218.5 M346.8 224.8 L351.6 233.8 M354.72 239.84 L360.08 250.56 M364.27 255.7 L368.23 258.8 M373.67 262.88 L377.23 265.42 M383.38 267.76 L385.92 268.04 M392.6 267.6 L395.9 266.8 M402.38 264.8 L405.32 263.7 M410.59 259.82 L414.91 254.28 M419.07 248.91 L423.63 242.99 M426.81 237.09 L432.69 220.01 M434.99 213.62 L439.51 201.58 M441.38 195.07 L446.92 167.83 M448.48 161.22 L452.62 145.78 M453.93 139.13 L458.07 107.07 M459.24 100.38 L462.56 85.42 M463.79 78.74 L467.31 54.86 M468.94 48.3 L470.96 42.6 M473.14 36.16 L475.06 30.14 M485.67 33.92 L486.33 35.18 M488.72 41.5 L491.28 51.9 M493.27 58.39 L495.53 64.61 M497.33 71.14 L500.57 88.26 M502.18 94.85 L505.02 104.25 M506.5 110.86 L510.6 138.54 M512.04 145.17 L516.26 159.93 M517.8 166.55 L523.1 196.25 M524.83 202.81 L530.07 217.69 M532.23 224.14 L538.27 243.06 M541.32 249.04 L545.98 255.36 M549.64 261.08 L556.46 273.42 M560.7 278.59 L566.2 283.21 M571.15 287.85 L578.25 295.25 M583.58 299.34 L590.12 302.96 M596.34 305.63 L601.86 307.37 M608.46 307.86 L614.24 306.94 M620.94 305.77 L627.56 304.53 M634.28 303.56 L640.62 302.94 M647.33 301.93 L653.17 300.77 M659.88 299.76 L665.22 299.24 M671.96 298.41 L677.54 297.59 M684.29 296.91 L690.01 296.59 M696.78 296.07 L701.7 295.6 " fill="none" stroke="#0000ff" stroke-width="0.75"/>
<use href="#td" x="85.9" y="296"/><use href="#td" x="98.2" y="297.7"/><use href="#td" x="110.2" y="299.5"/><use href="#td" x="122.8" y="301"/><use href="#td" x="134.8" y="301.7"/><use href="#td" x="148.1" y="305.5"/><use href="#td" x="161.4" y="308"/><use href="#td" x="173.7" y="307"/><use href="#td" x="186.5" y="305.3"/><use href="#td" x="197.8" y="298.2"/><use href="#td" x="209.9" y="288.4"/><use href="#td" x="221.2" y="272.1"/><use href="#td" x="231.2" y="263.1"/><use href="#td" x="239.8" y="242.5"/><use href="#td" x="248" y="225.7"/><use href="#td" x="255.1" y="194.6"/><use href="#td" x="261.6" y="171"/><use href="#td" x="267.9" y="133.3"/><use href="#td" x="273.2" y="115.5"/><use href="#td" x="277.8" y="87"/><use href="#td" x="282.5" y="72.5"/><use href="#td" x="287" y="51"/><use href="#td" x="290.8" y="41"/><use href="#td" x="294.5" y="30.5"/><use href="#td" x="299" y="26.5"/><use href="#td" x="303" y="30"/><use href="#td" x="307" y="36"/><use href="#td" x="311" y="57.5"/><use href="#td" x="315.8" y="74"/><use href="#td" x="320.2" y="109.5"/><use href="#td" x="325.9" y="133"/><use href="#td" x="331.4" y="171"/><use href="#td" x="337.7" y="192.3"/><use href="#td" x="345.2" y="221.8"/><use href="#td" x="353.2" y="236.8"/><use href="#td" x="361.6" y="253.6"/><use href="#td" x="370.9" y="260.9"/><use href="#td" x="380" y="267.4"/><use href="#td" x="389.3" y="268.4"/><use href="#td" x="399.2" y="266"/><use href="#td" x="408.5" y="262.5"/><use href="#td" x="417" y="251.6"/><use href="#td" x="425.7" y="240.3"/><use href="#td" x="433.8" y="216.8"/><use href="#td" x="440.7" y="198.4"/><use href="#td" x="447.6" y="164.5"/><use href="#td" x="453.5" y="142.5"/><use href="#td" x="458.5" y="103.7"/><use href="#td" x="463.3" y="82.1"/><use href="#td" x="467.8" y="51.5"/><use href="#td" x="472.1" y="39.4"/><use href="#td" x="476.1" y="26.9"/><use href="#td" x="479.8" y="25.9"/><use href="#td" x="484.1" y="30.9"/><use href="#td" x="487.9" y="38.2"/><use href="#td" x="492.1" y="55.2"/><use href="#td" x="496.7" y="67.8"/><use href="#td" x="501.2" y="91.6"/><use href="#td" x="506" y="107.5"/><use href="#td" x="511.1" y="141.9"/><use href="#td" x="517.2" y="163.2"/><use href="#td" x="523.7" y="199.6"/><use href="#td" x="531.2" y="220.9"/><use href="#td" x="539.3" y="246.3"/><use href="#td" x="548" y="258.1"/><use href="#td" x="558.1" y="276.4"/><use href="#td" x="568.8" y="285.4"/><use href="#td" x="580.6" y="297.7"/><use href="#td" x="593.1" y="304.6"/><use href="#td" x="605.1" y="308.4"/><use href="#td" x="617.6" y="306.4"/><use href="#td" x="630.9" y="303.9"/><use href="#td" x="644" y="302.6"/><use href="#td" x="656.5" y="300.1"/><use href="#td" x="668.6" y="298.9"/><use href="#td" x="680.9" y="297.1"/><use href="#td" x="693.4" y="296.4"/>
</g>
<g fill="#008080" stroke="none">
<path d="M247.06 316.71 L247.34 316.39 M257.37 304.82 L258.53 302.78 M266.77 289.47 L268.13 286.53 M276.03 274.6 L276.37 274 M313.72 261.5 L314.88 264.3 M318.28 271.53 L318.82 272.57 M321.74 279.96 L323.86 287.84 M326.48 295.38 L328.42 299.92 M331.17 307.43 L333.13 313.87 M336.67 320.92 L338.33 323.18 M342.65 329.89 L345.75 335.41 M350.84 341.37 L352.56 342.73 M359.12 347.27 L359.38 347.43 M381.73 346.94 L382.67 346.76 M397.94 347.42 L399.66 348.08 M414.83 349.05 L415.47 348.85 M422.48 345.27 L424.12 344.03 M430.23 338.88 L431.27 337.92 M436.08 331.67 L438.92 326.33 M442.8 319.33 L444.5 316.37 M447.81 309.12 L450.19 302.28 M453.07 294.82 L454.83 290.68 M457.76 283.24 L459.54 278.36 M466.59 263.83 L467.31 262.17 M495.65 263.9 L496.15 264.9 M503.99 276.21 L504.41 276.89 M512.11 287.36 L513.49 290.54 M522.23 303.9 L523.67 306.5 M533.04 318.34 L534.36 320.16 " fill="none" stroke="#008080" stroke-width="0.75"/>
<use href="#di" x="101.4" y="335.6"/><use href="#di" x="108.3" y="335.6"/><use href="#di" x="115.3" y="335.6"/><use href="#di" x="122.2" y="335.6"/><use href="#di" x="129.2" y="335.7"/><use href="#di" x="136.1" y="335.7"/><use href="#di" x="143" y="335.7"/><use href="#di" x="150" y="335.7"/><use href="#di" x="156.9" y="335.6"/><use href="#di" x="163.9" y="335.5"/><use href="#di" x="170.8" y="335.4"/><use href="#di" x="177.7" y="335.4"/><use href="#di" x="184.7" y="335.3"/><use href="#di" x="191.6" y="335.1"/><use href="#di" x="198.5" y="334.7"/><use href="#di" x="205.4" y="334.4"/><use href="#di" x="212.2" y="333.4"/><use href="#di" x="219" y="332"/><use href="#di" x="225.7" y="330.1"/><use href="#di" x="232.2" y="328"/><use href="#di" x="238.7" y="323.9"/><use href="#di" x="244.4" y="319.7"/><use href="#di" x="250" y="313.4"/><use href="#di" x="255.4" y="308.3"/><use href="#di" x="260.5" y="299.3"/><use href="#di" x="265.1" y="293.1"/><use href="#di" x="269.8" y="282.9"/><use href="#di" x="274.1" y="278.1"/><use href="#di" x="278.3" y="270.5"/><use href="#di" x="282.5" y="267.1"/><use href="#di" x="286.8" y="261.2"/><use href="#di" x="290.2" y="254.1"/><use href="#di" x="293.6" y="247.2"/><use href="#di" x="296.6" y="246.8"/><use href="#di" x="299.5" y="246.9"/><use href="#di" x="302" y="247.3"/><use href="#di" x="304.6" y="247.8"/><use href="#di" x="308" y="252.2"/><use href="#di" x="312.2" y="257.8"/><use href="#di" x="316.4" y="268"/><use href="#di" x="320.7" y="276.1"/><use href="#di" x="324.9" y="291.7"/><use href="#di" x="330" y="303.6"/><use href="#di" x="334.3" y="317.7"/><use href="#di" x="340.7" y="326.4"/><use href="#di" x="347.7" y="338.9"/><use href="#di" x="355.7" y="345.2"/><use href="#di" x="362.8" y="349.5"/><use href="#di" x="370.3" y="350.2"/><use href="#di" x="377.8" y="347.7"/><use href="#di" x="386.6" y="346"/><use href="#di" x="394.2" y="346"/><use href="#di" x="403.4" y="349.5"/><use href="#di" x="411" y="350.2"/><use href="#di" x="419.3" y="347.7"/><use href="#di" x="427.3" y="341.6"/><use href="#di" x="434.2" y="335.2"/><use href="#di" x="440.8" y="322.8"/><use href="#di" x="446.5" y="312.9"/><use href="#di" x="451.5" y="298.5"/><use href="#di" x="456.4" y="287"/><use href="#di" x="460.9" y="274.6"/><use href="#di" x="465" y="267.5"/><use href="#di" x="468.9" y="258.5"/><use href="#di" x="472.4" y="252.1"/><use href="#di" x="476.2" y="245.4"/><use href="#di" x="478.9" y="244.8"/><use href="#di" x="481.4" y="247.5"/><use href="#di" x="484.1" y="249.9"/><use href="#di" x="486.8" y="252.1"/><use href="#di" x="490.3" y="256.2"/><use href="#di" x="493.9" y="260.3"/><use href="#di" x="497.9" y="268.5"/><use href="#di" x="501.9" y="272.8"/><use href="#di" x="506.5" y="280.3"/><use href="#di" x="510.5" y="283.7"/><use href="#di" x="515.1" y="294.2"/><use href="#di" x="520.3" y="300.4"/><use href="#di" x="525.6" y="310"/><use href="#di" x="530.7" y="315.1"/><use href="#di" x="536.7" y="323.4"/><use href="#di" x="543" y="325.4"/><use href="#di" x="549.3" y="329.2"/><use href="#di" x="555.6" y="331.7"/><use href="#di" x="562.4" y="333.7"/><use href="#di" x="569.4" y="334.9"/><use href="#di" x="575.7" y="335.9"/><use href="#di" x="583.1" y="335.9"/><use href="#di" x="590.1" y="335.8"/><use href="#di" x="597" y="335.8"/><use href="#di" x="604" y="335.8"/><use href="#di" x="611" y="335.8"/><use href="#di" x="617.9" y="335.8"/><use href="#di" x="624.9" y="335.8"/><use href="#di" x="631.8" y="335.7"/><use href="#di" x="638.8" y="335"/><use href="#di" x="645.7" y="334.2"/><use href="#di" x="652.6" y="333.3"/><use href="#di" x="659.4" y="332.8"/><use href="#di" x="666.2" y="332.8"/><use href="#di" x="672.9" y="332.8"/>
</g>
<g fill="#ff00ff" stroke="none">
<path d="M143.15 358.19 L143.9 358.11 M166.25 357.18 L166.52 356.93 M310.38 321.44 L310.99 322.27 M314.7 328.89 L314.89 329.18 M316.48 332.8 L317.08 334.97 M318.86 340.87 L319.14 342.75 M320.56 346.38 L321.39 347.59 M322.79 351.22 L323.83 358.69 M324.63 362.6 L325.88 367.13 M327.75 370.55 L328.11 370.94 M329.63 374.42 L329.82 376.42 M340.38 373.05 L341.54 371.62 M343.17 368.1 L344.45 361.27 M345.41 357.4 L348.46 347.59 M349.42 343.71 L350.64 337.31 M351.19 333.35 L351.85 325.89 M352.99 318.44 L354.95 313.17 M355.82 309.3 L356.64 299.89 M357.22 295.93 L357.79 293.23 M357.63 289.36 L357.4 288.58 M357.73 284.87 L358.32 283.7 M359.03 279.92 L358.84 277.85 M359.37 273.99 L359.63 273.32 M383.51 211.91 L383.84 210.08 M396.89 202.94 L396.86 204.83 M398.93 210.28 L399.05 210.6 M401.32 222.59 L402 223.45 M415.81 264.8 L416.3 266.97 M417.06 273.32 L417.45 273.84 M418.58 277.44 L418.48 280.33 M419.79 286.56 L420.29 287.32 M421.1 290.98 L420.83 292.84 M422.15 298.47 L423.38 301.82 M424.15 305.69 L424.41 311.44 M425.19 315.32 L425.69 316.72 M427.04 320.48 L428 323.23 M428.96 327.09 L429.92 333.69 M430.36 337.66 L430.66 341.63 M431.07 345.61 L432.71 358.31 M433.04 362.29 L433.43 373.76 M434.36 377.56 L435.24 379.4 M438.03 381.76 L438.74 381.96 M443.93 383.77 L445.94 383.1 M448.34 380.53 L449.55 375.88 M450.42 371.97 L452.74 359.48 M453.49 355.55 L454.69 349.3 M457.89 342.77 L458.47 338.05 M461 331.34 L461.81 328.47 M472.97 317.73 L473.56 317.14 M535.27 348.67 L536.24 349.3 M593.05 358.51 L593.47 358.45 M599.17 357.85 L599.68 358.14 M610.82 358.07 L611.08 358.29 M627.17 356.89 L627.7 357.17 M631.15 357.71 L631.87 357.35 " fill="none" stroke="#ff00ff" stroke-width="0.75"/>
<use href="#tl" x="133.3" y="358"/><use href="#tl" x="136.4" y="357.9"/><use href="#tl" x="137.3" y="358.2"/><use href="#tl" x="140.5" y="358.4"/><use href="#tl" x="141.2" y="358.4"/><use href="#tl" x="145.9" y="357.9"/><use href="#tl" x="145.7" y="359.2"/><use href="#tl" x="149" y="356.9"/><use href="#tl" x="151.3" y="359"/><use href="#tl" x="152" y="357.8"/><use href="#tl" x="155.6" y="359.1"/><use href="#tl" x="156" y="357.5"/><use href="#tl" x="160.1" y="358"/><use href="#tl" x="162.6" y="358"/><use href="#tl" x="164.1" y="357.8"/><use href="#tl" x="164.8" y="358.6"/><use href="#tl" x="167.9" y="355.5"/><use href="#tl" x="170.9" y="357.9"/><use href="#tl" x="172.6" y="355.5"/><use href="#tl" x="174.8" y="356.4"/><use href="#tl" x="177.2" y="355.7"/><use href="#tl" x="178" y="355.4"/><use href="#tl" x="179.1" y="356.1"/><use href="#tl" x="183.2" y="356.3"/><use href="#tl" x="184.1" y="358.1"/><use href="#tl" x="187.5" y="358.1"/><use href="#tl" x="188.3" y="355.2"/><use href="#tl" x="192.3" y="354.7"/><use href="#tl" x="193.9" y="357.7"/><use href="#tl" x="195.7" y="356.3"/><use href="#tl" x="196.8" y="355.2"/><use href="#tl" x="198" y="355.4"/><use href="#tl" x="201.3" y="354.8"/><use href="#tl" x="204.7" y="357.5"/><use href="#tl" x="204.8" y="355.9"/><use href="#tl" x="208.6" y="355.8"/><use href="#tl" x="209.1" y="356.7"/><use href="#tl" x="211.7" y="355.8"/><use href="#tl" x="214.4" y="354.4"/><use href="#tl" x="216.3" y="354.1"/><use href="#tl" x="218.2" y="353.8"/><use href="#tl" x="220.6" y="353.9"/><use href="#tl" x="223.1" y="353"/><use href="#tl" x="224.4" y="355.2"/><use href="#tl" x="226.9" y="353.7"/><use href="#tl" x="228" y="352.4"/><use href="#tl" x="230.9" y="353.5"/><use href="#tl" x="231.8" y="352.1"/><use href="#tl" x="235" y="351.8"/><use href="#tl" x="234.5" y="349.7"/><use href="#tl" x="238.4" y="350.7"/><use href="#tl" x="239.7" y="349.4"/><use href="#tl" x="240.1" y="349.8"/><use href="#tl" x="243" y="347.6"/><use href="#tl" x="245" y="345.4"/><use href="#tl" x="248.3" y="347.5"/><use href="#tl" x="247.4" y="343.3"/><use href="#tl" x="250.3" y="345.7"/><use href="#tl" x="252.3" y="344.4"/><use href="#tl" x="253.6" y="341.8"/><use href="#tl" x="256.8" y="341.4"/><use href="#tl" x="257" y="339.6"/><use href="#tl" x="259.5" y="338.4"/><use href="#tl" x="260" y="336.8"/><use href="#tl" x="263.2" y="335.8"/><use href="#tl" x="263.2" y="335.1"/><use href="#tl" x="267.1" y="336.6"/><use href="#tl" x="267.2" y="332.9"/><use href="#tl" x="268.7" y="334.4"/><use href="#tl" x="270.6" y="333.5"/><use href="#tl" x="273" y="332.3"/><use href="#tl" x="274.5" y="330.3"/><use href="#tl" x="274" y="330.3"/><use href="#tl" x="277.8" y="329"/><use href="#tl" x="277.2" y="329"/><use href="#tl" x="280.6" y="328.1"/><use href="#tl" x="281.3" y="327.3"/><use href="#tl" x="281.5" y="325"/><use href="#tl" x="285.1" y="325.7"/><use href="#tl" x="285.9" y="323.3"/><use href="#tl" x="286.8" y="321.5"/><use href="#tl" x="287" y="322.2"/><use href="#tl" x="289.4" y="319.2"/><use href="#tl" x="290" y="317.4"/><use href="#tl" x="291" y="318"/><use href="#tl" x="292.6" y="315.8"/><use href="#tl" x="295.5" y="314.3"/><use href="#tl" x="297.1" y="314.8"/><use href="#tl" x="298" y="315.6"/><use href="#tl" x="298.9" y="312.1"/><use href="#tl" x="300.1" y="313.1"/><use href="#tl" x="300.4" y="313.2"/><use href="#tl" x="302.7" y="312.6"/><use href="#tl" x="303.2" y="311.9"/><use href="#tl" x="303.8" y="313.9"/><use href="#tl" x="307.3" y="313.7"/><use href="#tl" x="307.7" y="317.2"/><use href="#tl" x="309.3" y="318"/><use href="#tl" x="309.2" y="319.8"/><use href="#tl" x="312.2" y="323.9"/><use href="#tl" x="313.5" y="323.9"/><use href="#tl" x="313.6" y="327.2"/><use href="#tl" x="316" y="330.9"/><use href="#tl" x="317.6" y="336.9"/><use href="#tl" x="318.6" y="338.9"/><use href="#tl" x="319.4" y="344.7"/><use href="#tl" x="322.5" y="349.2"/><use href="#tl" x="324.1" y="360.7"/><use href="#tl" x="326.4" y="369.1"/><use href="#tl" x="329.4" y="372.4"/><use href="#tl" x="330" y="378.4"/><use href="#tl" x="333.5" y="377.1"/><use href="#tl" x="337.3" y="377.2"/><use href="#tl" x="339.1" y="374.6"/><use href="#tl" x="342.8" y="370.1"/><use href="#tl" x="344.8" y="359.3"/><use href="#tl" x="349" y="345.7"/><use href="#tl" x="351" y="335.3"/><use href="#tl" x="352" y="323.9"/><use href="#tl" x="352.3" y="320.3"/><use href="#tl" x="355.7" y="311.3"/><use href="#tl" x="356.8" y="297.9"/><use href="#tl" x="358.2" y="291.3"/><use href="#tl" x="356.8" y="286.7"/><use href="#tl" x="359.2" y="281.9"/><use href="#tl" x="358.7" y="275.9"/><use href="#tl" x="360.3" y="271.4"/><use href="#tl" x="361.4" y="267.3"/><use href="#tl" x="363.3" y="264.1"/><use href="#tl" x="363.4" y="262.2"/><use href="#tl" x="364.3" y="258.1"/><use href="#tl" x="365.2" y="257.2"/><use href="#tl" x="367" y="253.8"/><use href="#tl" x="366.7" y="250.4"/><use href="#tl" x="367.2" y="248.1"/><use href="#tl" x="368.3" y="246.3"/><use href="#tl" x="370" y="246.1"/><use href="#tl" x="370.3" y="243"/><use href="#tl" x="370.7" y="243.2"/><use href="#tl" x="373.3" y="240.7"/><use href="#tl" x="373.7" y="238.4"/><use href="#tl" x="373.7" y="237.1"/><use href="#tl" x="375.5" y="236.6"/><use href="#tl" x="376.1" y="235.2"/><use href="#tl" x="374.5" y="232.6"/><use href="#tl" x="376.7" y="233.3"/><use href="#tl" x="377.6" y="229.8"/><use href="#tl" x="378.4" y="229.3"/><use href="#tl" x="380" y="227.6"/><use href="#tl" x="377.9" y="227.1"/><use href="#tl" x="379" y="222.9"/><use href="#tl" x="382.1" y="222.2"/><use href="#tl" x="382" y="219.5"/><use href="#tl" x="381.9" y="217.2"/><use href="#tl" x="383.6" y="215.7"/><use href="#tl" x="382.4" y="213.3"/><use href="#tl" x="383.2" y="213.9"/><use href="#tl" x="384.2" y="208.1"/><use href="#tl" x="386" y="205"/><use href="#tl" x="387.1" y="203.1"/><use href="#tl" x="387.1" y="199.9"/><use href="#tl" x="387.1" y="198.9"/><use href="#tl" x="388.7" y="196.6"/><use href="#tl" x="387.9" y="198.1"/><use href="#tl" x="389.9" y="196.7"/><use href="#tl" x="389.3" y="194.6"/><use href="#tl" x="390.7" y="194.3"/><use href="#tl" x="391.9" y="195.7"/><use href="#tl" x="392.4" y="194.8"/><use href="#tl" x="393.5" y="194.1"/><use href="#tl" x="392.4" y="192.6"/><use href="#tl" x="392.5" y="193.6"/><use href="#tl" x="395" y="193.6"/><use href="#tl" x="393.8" y="196.3"/><use href="#tl" x="396.1" y="197.5"/><use href="#tl" x="396.2" y="198.8"/><use href="#tl" x="396.9" y="200.9"/><use href="#tl" x="396.8" y="206.8"/><use href="#tl" x="398.3" y="208.4"/><use href="#tl" x="399.7" y="212.5"/><use href="#tl" x="400.4" y="215.2"/><use href="#tl" x="400.3" y="218"/><use href="#tl" x="399.2" y="218.5"/><use href="#tl" x="400.1" y="221"/><use href="#tl" x="403.2" y="225"/><use href="#tl" x="403.2" y="228.3"/><use href="#tl" x="402.3" y="229.6"/><use href="#tl" x="404" y="229.9"/><use href="#tl" x="405.4" y="233"/><use href="#tl" x="405.6" y="234.2"/><use href="#tl" x="407.1" y="234.7"/><use href="#tl" x="407.8" y="236.7"/><use href="#tl" x="408.8" y="239.3"/><use href="#tl" x="408.6" y="241.9"/><use href="#tl" x="409.1" y="241"/><use href="#tl" x="409.9" y="243.5"/><use href="#tl" x="411.9" y="244.7"/><use href="#tl" x="411.7" y="248"/><use href="#tl" x="411.1" y="250.5"/><use href="#tl" x="413.2" y="252.8"/><use href="#tl" x="415" y="254.9"/><use href="#tl" x="414.9" y="258.9"/><use href="#tl" x="415.4" y="262.8"/><use href="#tl" x="416.8" y="268.9"/><use href="#tl" x="415.9" y="271.7"/><use href="#tl" x="418.6" y="275.4"/><use href="#tl" x="418.4" y="282.3"/><use href="#tl" x="418.7" y="284.9"/><use href="#tl" x="421.4" y="289"/><use href="#tl" x="420.6" y="294.8"/><use href="#tl" x="421.5" y="296.6"/><use href="#tl" x="424.1" y="303.7"/><use href="#tl" x="424.5" y="313.4"/><use href="#tl" x="426.4" y="318.6"/><use href="#tl" x="428.7" y="325.1"/><use href="#tl" x="430.2" y="335.7"/><use href="#tl" x="430.8" y="343.6"/><use href="#tl" x="433" y="360.3"/><use href="#tl" x="433.5" y="375.8"/><use href="#tl" x="436.1" y="381.2"/><use href="#tl" x="440.7" y="382.5"/><use href="#tl" x="442" y="384.4"/><use href="#tl" x="447.8" y="382.5"/><use href="#tl" x="450.1" y="373.9"/><use href="#tl" x="453.1" y="357.5"/><use href="#tl" x="455.1" y="347.3"/><use href="#tl" x="457.7" y="344.8"/><use href="#tl" x="458.7" y="336.1"/><use href="#tl" x="460.5" y="333.3"/><use href="#tl" x="462.4" y="326.5"/><use href="#tl" x="464.5" y="324.5"/><use href="#tl" x="465.6" y="323.2"/><use href="#tl" x="466" y="321.1"/><use href="#tl" x="467.6" y="320.5"/><use href="#tl" x="468.6" y="321.2"/><use href="#tl" x="471.9" y="319.2"/><use href="#tl" x="471.6" y="319.1"/><use href="#tl" x="475" y="315.7"/><use href="#tl" x="474.2" y="315.4"/><use href="#tl" x="475.6" y="317.3"/><use href="#tl" x="478.9" y="316"/><use href="#tl" x="478.6" y="316.3"/><use href="#tl" x="481.2" y="316.1"/><use href="#tl" x="481.4" y="316.5"/><use href="#tl" x="482.6" y="317.4"/><use href="#tl" x="482.9" y="319.9"/><use href="#tl" x="485.4" y="319.8"/><use href="#tl" x="486.6" y="321.2"/><use href="#tl" x="487.2" y="322.5"/><use href="#tl" x="490.7" y="321"/><use href="#tl" x="490.6" y="321.8"/><use href="#tl" x="492.9" y="324.5"/><use href="#tl" x="492.2" y="326.7"/><use href="#tl" x="496.1" y="325.3"/><use href="#tl" x="497" y="325.5"/><use href="#tl" x="498.2" y="327.2"/><use href="#tl" x="497.9" y="328"/><use href="#tl" x="500.8" y="327.9"/><use href="#tl" x="503.3" y="330.2"/><use href="#tl" x="503.7" y="333"/><use href="#tl" x="506.4" y="333"/><use href="#tl" x="507.3" y="334.3"/><use href="#tl" x="508.6" y="334.4"/><use href="#tl" x="510.8" y="333.6"/><use href="#tl" x="512.7" y="334.9"/><use href="#tl" x="512.1" y="337.1"/><use href="#tl" x="514.7" y="337.7"/><use href="#tl" x="517.2" y="336.5"/><use href="#tl" x="516.7" y="338"/><use href="#tl" x="519.5" y="339.5"/><use href="#tl" x="521.4" y="340.5"/><use href="#tl" x="521.3" y="342.7"/><use href="#tl" x="524.4" y="342.1"/><use href="#tl" x="525.5" y="344.6"/><use href="#tl" x="528.2" y="342.7"/><use href="#tl" x="529.3" y="346.8"/><use href="#tl" x="530.6" y="344.5"/><use href="#tl" x="531.9" y="345.2"/><use href="#tl" x="533.6" y="347.6"/><use href="#tl" x="537.9" y="350.4"/><use href="#tl" x="539.8" y="349.5"/><use href="#tl" x="541" y="349.5"/><use href="#tl" x="543.2" y="351.4"/><use href="#tl" x="544.8" y="352.4"/><use href="#tl" x="546.2" y="353.5"/><use href="#tl" x="548.6" y="353.5"/><use href="#tl" x="549.4" y="354.8"/><use href="#tl" x="553.1" y="354.6"/><use href="#tl" x="555.6" y="355.3"/><use href="#tl" x="556" y="355.5"/><use href="#tl" x="559.8" y="355.4"/><use href="#tl" x="560.8" y="356.4"/><use href="#tl" x="564" y="354.8"/><use href="#tl" x="566" y="356.1"/><use href="#tl" x="567.6" y="355.7"/><use href="#tl" x="569.4" y="356.4"/><use href="#tl" x="570" y="356"/><use href="#tl" x="572.1" y="358.7"/><use href="#tl" x="575" y="356.7"/><use href="#tl" x="578.2" y="357.6"/><use href="#tl" x="579.9" y="356.8"/><use href="#tl" x="580.6" y="356.4"/><use href="#tl" x="583.1" y="357.4"/><use href="#tl" x="586.1" y="357.4"/><use href="#tl" x="587.5" y="356.7"/><use href="#tl" x="589.7" y="358"/><use href="#tl" x="591.1" y="358.8"/><use href="#tl" x="595.4" y="358.2"/><use href="#tl" x="595.8" y="359.6"/><use href="#tl" x="597.4" y="356.9"/><use href="#tl" x="601.4" y="359.1"/><use href="#tl" x="602.4" y="356.6"/><use href="#tl" x="605.3" y="357.5"/><use href="#tl" x="608.1" y="356.5"/><use href="#tl" x="609.3" y="356.8"/><use href="#tl" x="612.6" y="359.6"/><use href="#tl" x="613.7" y="358.5"/><use href="#tl" x="616.7" y="359.1"/><use href="#tl" x="616.6" y="357"/><use href="#tl" x="620.7" y="356.7"/><use href="#tl" x="621.7" y="359.2"/><use href="#tl" x="624" y="357.6"/><use href="#tl" x="625.4" y="356"/><use href="#tl" x="629.5" y="358.1"/><use href="#tl" x="629.4" y="358.6"/><use href="#tl" x="633.7" y="356.5"/><use href="#tl" x="635.7" y="355.9"/><use href="#tl" x="636" y="358.8"/><use href="#tl" x="638.9" y="357.2"/><use href="#tl" x="640.4" y="356.7"/><use href="#tl" x="642.1" y="357.7"/><use href="#tl" x="645.2" y="356.5"/>
</g>
<g fill="#ff8000" stroke="none">
<path d="M236.42 352.66 L240.41 353.02 M246.75 353.86 L247.15 353.94 M253.44 355.09 L254.06 355.21 M260.21 356.88 L261.19 357.22 M267.29 359.14 L268.11 359.36 M273.33 357.82 L274.17 356.88 M278.36 352.05 L280.64 349.35 M283.75 343.88 L286.75 335.22 M288.73 329.14 L291.87 318.76 M293.31 312.54 L296.19 294.56 M298.34 288.65 L298.76 287.95 M322.25 289.08 L322.55 289.52 M328.7 300.58 L329.2 301.62 M332.38 307.16 L333.02 308.14 M336.28 313.64 L337.32 315.66 M354.18 334.1 L354.43 334.33 M417.96 339.23 L418.27 339.03 M423.3 335.11 L424.03 334.43 M433.76 326.18 L434.23 325.69 M438.41 320.86 L439.21 319.81 M442.74 314.49 L444.01 312.27 M447.2 306.73 L448.12 305.15 M451.2 299.54 L452.17 297.65 M455.23 292.03 L455.71 291.19 M458.91 285.65 L459.19 285.16 M478.44 287.12 L478.63 287.45 M481.39 293.21 L482.41 295.7 M484.28 301.8 L487.14 315.27 M489.08 321.33 L492.82 329.97 M495.06 335.95 L497.64 344.15 M500.26 349.94 L501.24 351.56 M505.29 356.43 L506.91 357.87 M512.45 359.43 L513.95 359.17 M520.07 357.4 L521.33 356.9 M527.34 354.7 L527.66 354.6 " fill="none" stroke="#ff8000" stroke-width="0.75"/>
<use href="#tr" x="124.5" y="350.2"/><use href="#tr" x="130.9" y="350.2"/><use href="#tr" x="137.2" y="350.3"/><use href="#tr" x="143.6" y="350.3"/><use href="#tr" x="149.9" y="350.4"/><use href="#tr" x="156.3" y="350.4"/><use href="#tr" x="162.7" y="350.5"/><use href="#tr" x="169" y="350.5"/><use href="#tr" x="175.4" y="350.5"/><use href="#tr" x="181.8" y="350.6"/><use href="#tr" x="188.2" y="350.6"/><use href="#tr" x="194.6" y="350.7"/><use href="#tr" x="201" y="350.7"/><use href="#tr" x="207.4" y="351.1"/><use href="#tr" x="213.8" y="351.4"/><use href="#tr" x="220.2" y="351.7"/><use href="#tr" x="226.7" y="352"/><use href="#tr" x="233.2" y="352.4"/><use href="#tr" x="243.6" y="353.3"/><use href="#tr" x="250.3" y="354.5"/><use href="#tr" x="257.2" y="355.8"/><use href="#tr" x="264.2" y="358.3"/><use href="#tr" x="271.2" y="360.2"/><use href="#tr" x="276.3" y="354.5"/><use href="#tr" x="282.7" y="346.9"/><use href="#tr" x="287.8" y="332.2"/><use href="#tr" x="292.8" y="315.7"/><use href="#tr" x="296.7" y="291.4"/><use href="#tr" x="300.4" y="285.2"/><use href="#tr" x="303.4" y="280.1"/><use href="#tr" x="306.7" y="277.6"/><use href="#tr" x="310.5" y="277.1"/><use href="#tr" x="314.2" y="278.9"/><use href="#tr" x="318" y="282.2"/><use href="#tr" x="320.5" y="286.4"/><use href="#tr" x="324.3" y="292.2"/><use href="#tr" x="327.3" y="297.7"/><use href="#tr" x="330.6" y="304.5"/><use href="#tr" x="334.8" y="310.8"/><use href="#tr" x="338.8" y="318.5"/><use href="#tr" x="342.4" y="322.8"/><use href="#tr" x="347" y="327.6"/><use href="#tr" x="351.8" y="332"/><use href="#tr" x="356.8" y="336.4"/><use href="#tr" x="362.1" y="340.3"/><use href="#tr" x="367.7" y="343.2"/><use href="#tr" x="373.5" y="345.2"/><use href="#tr" x="379.4" y="346.2"/><use href="#tr" x="385.4" y="346.5"/><use href="#tr" x="391.5" y="346.5"/><use href="#tr" x="397.5" y="346.1"/><use href="#tr" x="403.5" y="345.1"/><use href="#tr" x="409.5" y="343.1"/><use href="#tr" x="415.3" y="341"/><use href="#tr" x="420.9" y="337.3"/><use href="#tr" x="426.4" y="332.3"/><use href="#tr" x="431.5" y="328.5"/><use href="#tr" x="436.5" y="323.4"/><use href="#tr" x="441.2" y="317.3"/><use href="#tr" x="445.6" y="309.5"/><use href="#tr" x="449.7" y="302.4"/><use href="#tr" x="453.6" y="294.8"/><use href="#tr" x="457.3" y="288.4"/><use href="#tr" x="460.8" y="282.4"/><use href="#tr" x="464.1" y="279"/><use href="#tr" x="467.4" y="277.1"/><use href="#tr" x="470.5" y="276.6"/><use href="#tr" x="473.7" y="278.8"/><use href="#tr" x="476.9" y="284.3"/><use href="#tr" x="480.2" y="290.3"/><use href="#tr" x="483.6" y="298.7"/><use href="#tr" x="487.8" y="318.4"/><use href="#tr" x="494.1" y="332.9"/><use href="#tr" x="498.6" y="347.2"/><use href="#tr" x="502.9" y="354.3"/><use href="#tr" x="509.3" y="360"/><use href="#tr" x="517.1" y="358.6"/><use href="#tr" x="524.3" y="355.7"/><use href="#tr" x="530.7" y="353.6"/><use href="#tr" x="536.9" y="351.6"/><use href="#tr" x="542.2" y="351.1"/><use href="#tr" x="548.6" y="350.7"/><use href="#tr" x="555" y="350.5"/><use href="#tr" x="561.4" y="350.4"/><use href="#tr" x="567.8" y="350.4"/><use href="#tr" x="574.2" y="350.4"/><use href="#tr" x="580.5" y="350.3"/><use href="#tr" x="586.9" y="350.3"/><use href="#tr" x="593.2" y="350.3"/><use href="#tr" x="599.6" y="350.3"/><use href="#tr" x="606" y="350.2"/><use href="#tr" x="612.3" y="350.1"/><use href="#tr" x="618.7" y="350"/><use href="#tr" x="625" y="350"/><use href="#tr" x="631.3" y="349.9"/><use href="#tr" x="637.7" y="349.8"/><use href="#tr" x="644" y="349.7"/><use href="#tr" x="650.3" y="349.6"/>
</g>
<g fill="#808000" stroke="none">
<path d="M320.25 350 L320.66 350.24 M332.61 355.49 L333.1 355.68 M339.17 357.68 L339.69 357.82 M345.93 359.22 L346.53 359.33 M352.85 360.31 L353.55 360.4 M359.91 361.12 L360.7 361.19 M367.08 361.49 L367.92 361.5 M374.31 361.3 L375.18 361.25 M381.58 360.95 L382.4 360.92 M388.79 360.81 L389.58 360.81 M395.98 360.87 L396.75 360.89 M403.15 360.97 L403.94 360.98 M410.34 361 L411.14 361 M417.54 360.93 L418.34 360.91 M424.73 360.65 L425.53 360.61 M431.89 359.94 L432.71 359.81 M438.98 358.56 L439.81 358.35 M445.9 356.42 L446.82 356.06 M452.61 353.36 L453.64 352.8 M459.2 349.63 L460.02 349.14 M465.51 345.85 L466.05 345.53 M471.53 342.21 L471.79 342.05 M686.99 356.47 L687.29 356.47 M693.69 356.56 L694 356.56 " fill="none" stroke="#808000" stroke-width="0.75"/>
<use href="#st" x="79.6" y="354.7"/><use href="#st" x="86.1" y="354.7"/><use href="#st" x="92.7" y="354.7"/><use href="#st" x="99.2" y="354.7"/><use href="#st" x="105.7" y="354.7"/><use href="#st" x="112.3" y="354.7"/><use href="#st" x="118.8" y="354.7"/><use href="#st" x="125.4" y="354.7"/><use href="#st" x="131.9" y="354.6"/><use href="#st" x="138.4" y="354.6"/><use href="#st" x="145" y="354.5"/><use href="#st" x="151.5" y="354.5"/><use href="#st" x="158" y="354.4"/><use href="#st" x="164.5" y="354.3"/><use href="#st" x="171" y="354.3"/><use href="#st" x="177.5" y="354.2"/><use href="#st" x="184" y="354"/><use href="#st" x="190.5" y="353.8"/><use href="#st" x="196.9" y="353.5"/><use href="#st" x="203.3" y="353.3"/><use href="#st" x="209.8" y="353"/><use href="#st" x="216.1" y="352.2"/><use href="#st" x="222.4" y="351.4"/><use href="#st" x="228.7" y="350.7"/><use href="#st" x="234.9" y="349.5"/><use href="#st" x="241" y="348.3"/><use href="#st" x="247" y="346.9"/><use href="#st" x="252.9" y="345.3"/><use href="#st" x="258.6" y="343.4"/><use href="#st" x="264.3" y="341.5"/><use href="#st" x="269.8" y="339.6"/><use href="#st" x="275.1" y="338"/><use href="#st" x="280.4" y="336.4"/><use href="#st" x="285.6" y="335.7"/><use href="#st" x="290.7" y="336"/><use href="#st" x="295.8" y="337.6"/><use href="#st" x="301" y="339.6"/><use href="#st" x="306.4" y="341.7"/><use href="#st" x="311.8" y="345"/><use href="#st" x="317.5" y="348.4"/><use href="#st" x="323.4" y="351.9"/><use href="#st" x="329.6" y="354.3"/><use href="#st" x="336.1" y="356.8"/><use href="#st" x="342.8" y="358.7"/><use href="#st" x="349.7" y="359.9"/><use href="#st" x="356.7" y="360.8"/><use href="#st" x="363.9" y="361.5"/><use href="#st" x="371.1" y="361.5"/><use href="#st" x="378.4" y="361"/><use href="#st" x="385.6" y="360.8"/><use href="#st" x="392.8" y="360.8"/><use href="#st" x="400" y="361"/><use href="#st" x="407.1" y="361"/><use href="#st" x="414.3" y="361"/><use href="#st" x="421.5" y="360.8"/><use href="#st" x="428.7" y="360.4"/><use href="#st" x="435.9" y="359.3"/><use href="#st" x="442.9" y="357.6"/><use href="#st" x="449.8" y="354.9"/><use href="#st" x="456.4" y="351.3"/><use href="#st" x="462.8" y="347.5"/><use href="#st" x="468.8" y="343.9"/><use href="#st" x="474.5" y="340.4"/><use href="#st" x="480" y="338"/><use href="#st" x="485.3" y="336.9"/><use href="#st" x="490.5" y="336.3"/><use href="#st" x="495.7" y="336.7"/><use href="#st" x="500.8" y="337.3"/><use href="#st" x="506" y="338.4"/><use href="#st" x="511.3" y="340.7"/><use href="#st" x="516.6" y="343.8"/><use href="#st" x="522.2" y="346.1"/><use href="#st" x="527.9" y="347.6"/><use href="#st" x="533.8" y="348.9"/><use href="#st" x="539.8" y="350"/><use href="#st" x="545.9" y="351.1"/><use href="#st" x="552" y="352.1"/><use href="#st" x="558.3" y="352.9"/><use href="#st" x="564.6" y="353.8"/><use href="#st" x="571.1" y="354.4"/><use href="#st" x="577.6" y="354.7"/><use href="#st" x="584.1" y="355"/><use href="#st" x="590.6" y="355.4"/><use href="#st" x="597.2" y="355.7"/><use href="#st" x="603.8" y="355.8"/><use href="#st" x="610.5" y="355.8"/><use href="#st" x="617.1" y="355.9"/><use href="#st" x="623.8" y="355.9"/><use href="#st" x="630.4" y="355.9"/><use href="#st" x="637.1" y="355.9"/><use href="#st" x="643.7" y="356"/><use href="#st" x="650.4" y="356"/><use href="#st" x="657.1" y="356.1"/><use href="#st" x="663.7" y="356.2"/><use href="#st" x="670.4" y="356.3"/><use href="#st" x="677.1" y="356.3"/><use href="#st" x="683.8" y="356.4"/><use href="#st" x="690.5" y="356.5"/><use href="#st" x="697.2" y="356.6"/>
</g>
<g stroke="#000" stroke-width="1.75" fill="none">
<path d="M78.9 1.2 V424.7 M69.3 423.8 H701.4"/>
<path d="M79 423.8 v9.5 M117.8 423.8 v5 M156.7 423.8 v9.5 M195.6 423.8 v5 M234.4 423.8 v9.5 M273.2 423.8 v5 M312.1 423.8 v9.5 M350.9 423.8 v5 M389.8 423.8 v9.5 M428.7 423.8 v5 M467.5 423.8 v9.5 M506.4 423.8 v5 M545.2 423.8 v9.5 M584 423.8 v5 M622.9 423.8 v9.5 M661.8 423.8 v5 M700.6 423.8 v9.5 M79 374.15 h-5.5 M79 324.56 h-9.6 M79 274.96 h-5.5 M79 225.37 h-9.6 M79 175.78 h-5.5 M79 126.18 h-9.6 M79 76.58 h-5.5 M79 26.99 h-9.6 "/>
</g>
<text x="79" y="450.6" font-size="17" text-anchor="middle">-4</text>
<text x="156.7" y="450.6" font-size="17" text-anchor="middle">-3</text>
<text x="234.4" y="450.6" font-size="17" text-anchor="middle">-2</text>
<text x="312.1" y="450.6" font-size="17" text-anchor="middle">-1</text>
<text x="389.8" y="450.6" font-size="17" text-anchor="middle">0</text>
<text x="467.5" y="450.6" font-size="17" text-anchor="middle">1</text>
<text x="545.2" y="450.6" font-size="17" text-anchor="middle">2</text>
<text x="622.9" y="450.6" font-size="17" text-anchor="middle">3</text>
<text x="700.6" y="450.6" font-size="17" text-anchor="middle">4</text>
<text x="63" y="428.8" font-size="17" text-anchor="end">0.0</text>
<text x="63" y="329.6" font-size="17" text-anchor="end">0.1</text>
<text x="63" y="230.4" font-size="17" text-anchor="end">0.2</text>
<text x="63" y="131.2" font-size="17" text-anchor="end">0.3</text>
<text x="63" y="32" font-size="17" text-anchor="end">0.4</text>
<text x="356.3" y="482.2" font-size="19.4" textLength="67.5" lengthAdjust="spacingAndGlyphs">V (mV)</text>
<text transform="translate(21.6 276.5) rotate(-90) scale(1 1.17)" font-size="19.4" textLength="97.5" lengthAdjust="spacingAndGlyphs">dI/dV (1/Ω)</text>
<path d="M568 72.2 H580 M592.3 72.2 H603.8" stroke="#000000" stroke-width="0.75" fill="none"/>
<use href="#Lsq" x="586.1" y="72.2" fill="#000000"/>
<text x="609" y="77" font-size="15.5" textLength="67" lengthAdjust="spacingAndGlyphs">J1 1.81 K</text>
<path d="M568 90 H580 M592.3 90 H603.8" stroke="#ff0000" stroke-width="0.75" fill="none"/>
<use href="#Lci" x="586.1" y="90" fill="#ff0000"/>
<text x="609" y="94.8" font-size="15.5" textLength="67" lengthAdjust="spacingAndGlyphs">J2 1.81 K</text>
<path d="M568 107.7 H580 M592.3 107.7 H603.8" stroke="#00ff00" stroke-width="0.75" fill="none"/>
<use href="#Ltu" x="586.1" y="107.7" fill="#00ff00"/>
<text x="609" y="112.5" font-size="15.5" textLength="67" lengthAdjust="spacingAndGlyphs">J3 1.86 K</text>
<path d="M568 125.5 H580 M592.3 125.5 H603.8" stroke="#0000ff" stroke-width="0.75" fill="none"/>
<use href="#Ltd" x="586.1" y="125.5" fill="#0000ff"/>
<text x="609" y="130.3" font-size="15.5" textLength="67" lengthAdjust="spacingAndGlyphs">J4 1.81 K</text>
<path d="M568 143.3 H580 M592.3 143.3 H603.8" stroke="#008080" stroke-width="0.75" fill="none"/>
<use href="#Ldi" x="586.1" y="143.3" fill="#008080"/>
<text x="609" y="148.1" font-size="15.5" textLength="67" lengthAdjust="spacingAndGlyphs">J5 1.89 K</text>
<path d="M568 161.1 H580 M592.3 161.1 H603.8" stroke="#ff00ff" stroke-width="0.75" fill="none"/>
<use href="#Ltl" x="586.1" y="161.1" fill="#ff00ff"/>
<text x="609" y="165.9" font-size="15.5" textLength="67" lengthAdjust="spacingAndGlyphs">J6 1.82 K</text>
<path d="M568 178.8 H580 M592.3 178.8 H603.8" stroke="#ff8000" stroke-width="0.75" fill="none"/>
<use href="#Ltr" x="586.1" y="178.8" fill="#ff8000"/>
<text x="609" y="183.6" font-size="15.5" textLength="67" lengthAdjust="spacingAndGlyphs">J7 1.81 K</text>
<path d="M568 196.6 H580 M592.3 196.6 H603.8" stroke="#808000" stroke-width="0.75" fill="none"/>
<use href="#Lst" x="586.1" y="196.6" fill="#808000"/>
<text x="609" y="201.4" font-size="15.5" textLength="67" lengthAdjust="spacingAndGlyphs">J8 1.85 K</text>
</svg></body></html>
